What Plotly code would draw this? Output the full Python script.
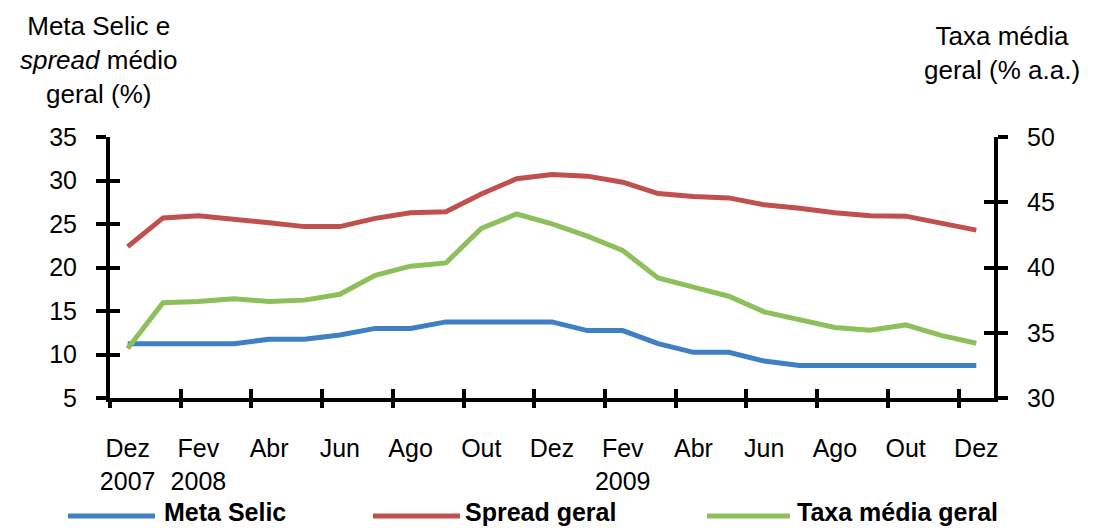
import plotly.graph_objects as go

# Monthly series, Dec/2007 to Dec/2009
months = ["Dez", "Jan", "Fev", "Mar", "Abr", "Mai", "Jun", "Jul", "Ago", "Set", "Out", "Nov",
          "Dez", "Jan", "Fev", "Mar", "Abr", "Mai", "Jun", "Jul", "Ago", "Set", "Out", "Nov", "Dez"]
tick_text = ["Dez<br>2007", "Fev<br>2008", "Abr", "Jun", "Ago", "Out", "Dez",
             "Fev<br>2009", "Abr", "Jun", "Ago", "Out", "Dez"]

meta_selic = [11.25, 11.25, 11.25, 11.25, 11.75, 11.75, 12.25, 13.0, 13.0, 13.75, 13.75, 13.75,
              13.75, 12.75, 12.75, 11.25, 10.25, 10.25, 9.25, 8.75, 8.75, 8.75, 8.75, 8.75, 8.75]
spread_geral = [22.4, 25.7, 25.95, 25.6, 25.15, 24.7, 24.7, 25.65, 26.3, 26.4, 28.45, 30.2,
                30.7, 30.5, 29.8, 28.5, 28.15, 28.0, 27.2, 26.8, 26.3, 25.95, 25.9, 25.1, 24.3]
taxa_media = [33.8, 37.3, 37.4, 37.6, 37.4, 37.5, 37.95, 39.4, 40.1, 40.35, 43.0, 44.1,
              43.35, 42.4, 41.3, 39.2, 38.5, 37.8, 36.6, 36.0, 35.4, 35.2, 35.6, 34.8, 34.2]

series_names = ["Meta Selic", "Spread geral", "Taxa média geral"]
colors = ["#3F80C4", "#C0504D", "#8DBF5A"]

x = list(range(len(months)))
label_pos = x[::2]
# tick marks sit on the boundaries between every second month
tick_pos = [i - 0.5 for i in x[::2] if i - 0.5 < len(x) - 1]

W, H = 1095, 528
L, R, T, B = 110, 101, 137, 130
FONT = "Liberation Sans, Arial, sans-serif"
AX = dict(color="black", size=25, family=FONT)


def px_x(p):
    return (p - L) / (W - L - R)


def px_y(p):
    return (H - B - p) / (H - T - B)


fig = go.Figure()
fig.add_trace(go.Scatter(x=x, y=meta_selic, mode="lines", name=series_names[0],
                         line=dict(color=colors[0], width=5), xaxis="x", yaxis="y"))
fig.add_trace(go.Scatter(x=x, y=spread_geral, mode="lines", name=series_names[1],
                         line=dict(color=colors[1], width=5), xaxis="x", yaxis="y"))
fig.add_trace(go.Scatter(x=x, y=taxa_media, mode="lines", name=series_names[2],
                         line=dict(color=colors[2], width=5), xaxis="x", yaxis="y2"))
# empty traces anchoring the helper axes that draw the inner half of the ticks
fig.add_trace(go.Scatter(x=[None], y=[None], xaxis="x2", yaxis="y3", hoverinfo="skip"))
fig.add_trace(go.Scatter(x=[None], y=[None], xaxis="x3", yaxis="y4", hoverinfo="skip"))

xrange = [-0.5, len(x) - 0.5]
common_x = dict(range=xrange, showgrid=False, zeroline=False, fixedrange=True)

fig.update_layout(
    width=W, height=H,
    margin=dict(l=L, r=R, t=T, b=B, pad=0),
    paper_bgcolor="white", plot_bgcolor="white",
    showlegend=False,
    font=dict(family=FONT, color="black"),
    xaxis=dict(**common_x, tickmode="array", tickvals=label_pos, ticktext=tick_text,
               ticks="", showline=True, linecolor="black", linewidth=4,
               tickfont=AX, ticklabelstandoff=25, anchor="y"),
    xaxis2=dict(**common_x, overlaying="x", anchor="y3", tickmode="array", tickvals=tick_pos,
                ticks="outside", ticklen=9, tickwidth=4, tickcolor="black",
                showticklabels=False, showline=False),
    xaxis3=dict(**common_x, overlaying="x", anchor="y4", tickmode="array", tickvals=tick_pos,
                ticks="inside", ticklen=9, tickwidth=4, tickcolor="black",
                showticklabels=False, showline=False),
    yaxis=dict(range=[5, 35], tickmode="array", tickvals=[5, 10, 15, 20, 25, 30, 35],
               ticks="outside", ticklen=10, tickwidth=4, tickcolor="black",
               showline=True, linecolor="black", linewidth=4, showgrid=False, zeroline=False,
               tickfont=AX, ticklabelstandoff=14, fixedrange=True),
    yaxis3=dict(range=[5, 35], overlaying="y", side="left", anchor="x2", tickmode="array",
                tickvals=[5, 10, 15, 20, 25, 30, 35], ticks="inside", ticklen=10, tickwidth=4,
                tickcolor="black", showticklabels=False, showline=False, showgrid=False,
                zeroline=False, fixedrange=True),
    yaxis2=dict(range=[30, 50], overlaying="y", side="right", anchor="x", tickmode="array",
                tickvals=[30, 35, 40, 45, 50], ticks="outside", ticklen=10, tickwidth=4,
                tickcolor="black", showline=True, linecolor="black", linewidth=4,
                showgrid=False, zeroline=False, tickfont=AX, ticklabelstandoff=14,
                fixedrange=True),
    yaxis4=dict(range=[30, 50], overlaying="y", side="right", anchor="x3", tickmode="array",
                tickvals=[30, 35, 40, 45, 50], ticks="inside", ticklen=10, tickwidth=4,
                tickcolor="black", showticklabels=False, showline=False, showgrid=False,
                zeroline=False, fixedrange=True),
)

# axis titles
fig.add_annotation(text="Meta Selic e<br><i>spread</i> médio<br>geral (%)",
                   xref="paper", yref="paper", x=px_x(99), y=px_y(9),
                   xanchor="center", yanchor="top", showarrow=False,
                   font=dict(size=26, family=FONT, color="black"))
fig.add_annotation(text="Taxa média<br>geral (% a.a.)",
                   xref="paper", yref="paper", x=px_x(1002), y=px_y(19),
                   xanchor="center", yanchor="top", showarrow=False,
                   font=dict(size=26, family=FONT, color="black"))

# legend row under the axis
legend_y = px_y(512)
legend_items = [(68, 155, 163), (373, 460, 464), (707, 790, 796)]
for name, col, (x0, x1, xt) in zip(series_names, colors, legend_items):
    fig.add_shape(type="line", xref="paper", yref="paper",
                  x0=px_x(x0), x1=px_x(x1), y0=px_y(516), y1=px_y(516),
                  line=dict(color=col, width=5))
    fig.add_annotation(text=f"<b>{name}</b>", xref="paper", yref="paper",
                       x=px_x(xt), y=legend_y, xanchor="left", yanchor="middle",
                       showarrow=False, borderpad=0,
                       font=dict(size=25, family=FONT, color="black"))

fig.write_html("out.html")
